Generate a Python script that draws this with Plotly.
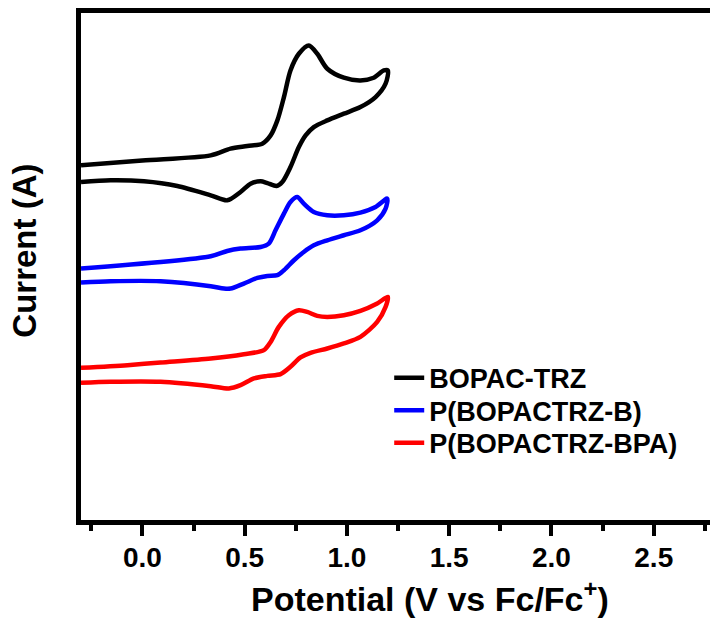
import plotly.graph_objects as go

# ---------------- data ----------------
# BOPAC-TRZ  (forward scan then reverse scan)
bopac_v = [-0.30, 0.00, 0.334, 0.431, 0.513, 0.586, 0.627, 0.660, 0.692, 0.724, 0.765, 0.814,
           0.855, 0.904, 0.985, 1.066, 1.131, 1.180, 1.200,
           1.189, 1.140, 1.066, 0.985, 0.904, 0.838, 0.798, 0.765, 0.724, 0.684, 0.656,
           0.611, 0.578, 0.529, 0.480, 0.415, 0.334, 0.171, 0.008, -0.155, -0.30]
bopac_i = [6.995, 7.090, 7.192, 7.324, 7.375, 7.423, 7.586, 7.882, 8.341, 8.867, 9.196, 9.360,
           9.196, 8.900, 8.723, 8.670, 8.723, 8.867, 8.867,
           8.605, 8.341, 8.144, 8.014, 7.882, 7.750, 7.586, 7.356, 6.962, 6.666, 6.587,
           6.646, 6.680, 6.634, 6.469, 6.305, 6.404, 6.587, 6.680, 6.700, 6.666]

# P(BOPACTRZ-B)
pb_v = [-0.30, 0.334, 0.415, 0.480, 0.578, 0.618, 0.651, 0.692, 0.724, 0.757, 0.789, 0.838,
        0.904, 0.985, 1.066, 1.140, 1.197,
        1.189, 1.148, 1.066, 0.985, 0.904, 0.838, 0.789, 0.741, 0.692, 0.660, 0.611,
        0.562, 0.496, 0.431, 0.399, 0.334, 0.089, -0.155, -0.30]
pb_i = [4.960, 5.202, 5.306, 5.354, 5.385, 5.452, 5.714, 6.043, 6.272, 6.370, 6.240, 6.075,
        6.010, 6.010, 6.063, 6.173, 6.339,
        6.142, 5.911, 5.714, 5.616, 5.517, 5.419, 5.287, 5.123, 4.926, 4.828, 4.814,
        4.774, 4.664, 4.565, 4.565, 4.611, 4.709, 4.709, 4.684]

# P(BOPACTRZ-BPA)
pbpa_v = [-0.30, -0.073, 0.089, 0.334, 0.496, 0.594, 0.627, 0.667, 0.716, 0.765, 0.806, 0.855,
          0.904, 0.985, 1.066, 1.148, 1.200,
          1.189, 1.148, 1.066, 0.985, 0.904, 0.822, 0.773, 0.724, 0.676, 0.611, 0.545,
          0.480, 0.423, 0.334, 0.089, -0.155, -0.30]
pbpa_i = [3.001, 3.054, 3.107, 3.186, 3.271, 3.350, 3.513, 3.809, 4.039, 4.138, 4.104, 4.026,
          4.006, 4.039, 4.124, 4.270, 4.400,
          4.203, 3.907, 3.612, 3.482, 3.383, 3.297, 3.206, 3.021, 2.877, 2.843, 2.792,
          2.660, 2.595, 2.640, 2.725, 2.725, 2.705]

series_names = ["BOPAC-TRZ", "P(BOPACTRZ-B)", "P(BOPACTRZ-BPA)"]
series_colors = ["#000000", "#0000FF", "#FF0000"]
x_ticks = [0.0, 0.5, 1.0, 1.5, 2.0, 2.5]
x_minor_ticks = [-0.25, 0.25, 0.75, 1.25, 1.75, 2.25, 2.75]

FONT = "Liberation Sans, Arial, sans-serif"
legend_ids = ["legend", "legend2", "legend3"]
legend_rows_y = [0.2798, 0.2158, 0.1517]

fig = go.Figure()
for name, color, lg, xv, yv in zip(series_names, series_colors, legend_ids,
                                   [bopac_v, pb_v, pbpa_v], [bopac_i, pb_i, pbpa_i]):
    fig.add_trace(go.Scatter(x=xv, y=yv, mode="lines", name=name, legend=lg,
                             line=dict(color=color, width=4.5, shape="spline", smoothing=0.8)))

legend_style = dict(xanchor="left", yanchor="middle", bgcolor="rgba(0,0,0,0)", borderwidth=0,
                    font=dict(family=FONT, size=27, color="black", weight="bold"),
                    itemwidth=30)

fig.update_layout(
    width=710, height=618,
    margin=dict(l=80.5, r=0, t=12.5, b=98),
    paper_bgcolor="white", plot_bgcolor="white",
    showlegend=True,
    legend=dict(x=0.49, y=legend_rows_y[0], **legend_style),
    legend2=dict(x=0.49, y=legend_rows_y[1], **legend_style),
    legend3=dict(x=0.49, y=legend_rows_y[2], **legend_style),
    xaxis=dict(range=[-0.3, 2.775], tickmode="array", tickvals=x_ticks,
               ticktext=[f"{v:.1f}" for v in x_ticks],
               showline=True, linewidth=5, linecolor="black", mirror=True,
               ticks="outside", ticklen=11, tickwidth=4, tickcolor="black",
               ticklabelstandoff=-3,
               tickfont=dict(family=FONT, size=28, color="black", weight="bold"),
               minor=dict(tickvals=x_minor_ticks,
                          ticks="outside", ticklen=6, tickwidth=4, tickcolor="black"),
               showgrid=False, zeroline=False),
    yaxis=dict(range=[0, 10], showline=True, linewidth=5, linecolor="black",
               mirror=False, ticks="", showticklabels=False,
               showgrid=False, zeroline=False),
)

fig.add_annotation(text="Potential (V vs Fc/Fc<sup>+</sup>)", xref="paper", yref="paper",
                   x=0.555, y=-0.150, xanchor="center", yanchor="middle", showarrow=False,
                   font=dict(family=FONT, size=34, color="black", weight="bold"))
fig.add_annotation(text="Current (A)", xref="paper", yref="paper",
                   x=-0.09, y=0.532, xanchor="center", yanchor="middle", showarrow=False,
                   textangle=-90,
                   font=dict(family=FONT, size=33, color="black", weight="bold"))

fig.write_html("out.html")
